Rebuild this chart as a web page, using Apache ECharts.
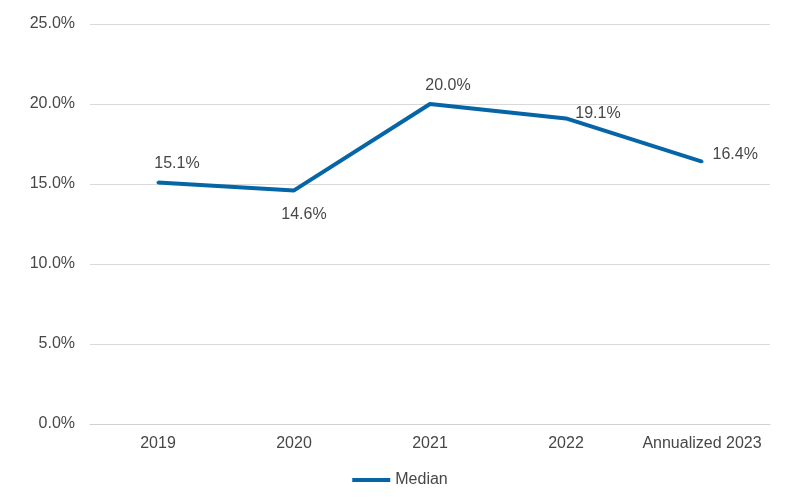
<!DOCTYPE html>
<html>
<head>
<meta charset="utf-8">
<script src="https://cdn.jsdelivr.net/npm/echarts@6/dist/echarts.min.js"></script>
<style>
  html, body { margin: 0; padding: 0; background: #fff; }
  #chart { width: 800px; height: 500px; }
</style>
</head>
<body>
<div id="chart"></div>
<script>
  // 数据
  const categories = ['2019', '2020', '2021', '2022', 'Annualized 2023']
  const medianValues = [15.1, 14.6, 20.0, 19.1, 16.4]
  // label placement per point: [position, dx, dy]
  const labelPlaces = [
    ['top', 19, -4],
    ['bottom', 10, 10],
    ['top', 18, -4],
    ['top', 32, 10],
    ['right', 4, -7]
  ]

  const textColor = '#474747'
  const lineColor = '#0565A6'

  const chart = echarts.init(document.getElementById('chart'))

  const seriesData = medianValues.map((v, i) => ({
    value: v,
    label: {
      position: labelPlaces[i][0],
      offset: [labelPlaces[i][1], labelPlaces[i][2]]
    }
  }))

  const option = {
    animation: false,
    textStyle: { fontFamily: 'Liberation Sans, Arial, sans-serif' },
    legend: {
      data: ['Median'],
      bottom: 7,
      left: 'center',
      icon: 'rect',
      itemWidth: 38,
      itemHeight: 4,
      itemGap: 10,
      itemStyle: { color: lineColor, opacity: 1 },
      textStyle: { color: textColor, fontSize: 16 }
    },
    grid: {
      left: 90,
      right: 30,
      top: 24,
      bottom: 76
    },
    xAxis: {
      type: 'category',
      data: categories,
      boundaryGap: true,
      axisLine: { show: true, lineStyle: { color: '#d0d0d0', width: 1 } },
      axisTick: { show: false },
      axisLabel: { color: textColor, fontSize: 16, margin: 12, interval: 0 }
    },
    yAxis: {
      type: 'value',
      min: 0,
      max: 25,
      interval: 5,
      axisLine: { show: false },
      axisTick: { show: false },
      splitLine: { lineStyle: { color: '#d9d9d9', width: 1 } },
      axisLabel: {
        color: textColor,
        fontSize: 16,
        margin: 15,
        formatter: val => val.toFixed(1) + '%'
      }
    },
    series: [
      {
        name: 'Median',
        type: 'line',
        data: seriesData,
        symbol: 'circle',
        symbolSize: 3,
        showSymbol: true,
        lineStyle: { color: lineColor, width: 4 },
        itemStyle: { color: lineColor },
        label: {
          show: true,
          color: textColor,
          fontSize: 16,
          formatter: p => p.value.toFixed(1) + '%'
        }
      }
    ]
  }

  chart.setOption(option)
</script>
</body>
</html>
